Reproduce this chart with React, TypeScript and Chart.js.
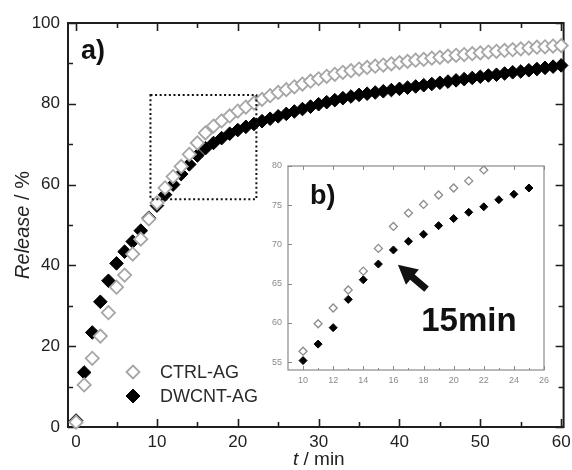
import React, { useEffect, useRef } from 'react';
import { Chart, registerables } from 'chart.js';

Chart.register(...registerables);

// ---------- data (main chart) ----------
const TIME = [
  0, 1, 2, 3, 4, 5, 6, 7, 8, 9, 10, 11, 12, 13, 14, 15, 16, 17, 18, 19, 20,
  21, 22, 23, 24, 25, 26, 27, 28, 29, 30, 31, 32, 33, 34, 35, 36, 37, 38, 39, 40,
  41, 42, 43, 44, 45, 46, 47, 48, 49, 50, 51, 52, 53, 54, 55, 56, 57, 58, 59, 60,
];
const CTRL_AG = [
  1.2, 10.4, 17.0, 22.5, 28.3, 34.6, 37.6, 42.8, 46.5, 51.5, 55.5,
  59.2, 62.0, 64.5, 67.5, 70.3, 72.8, 74.5, 75.8, 77.0, 78.2,
  79.2, 80.2, 81.1, 82.0, 82.8, 83.5, 84.2, 84.9, 85.6, 86.2,
  86.8, 87.3, 87.8, 88.2, 88.6, 89.0, 89.3, 89.6, 89.9, 90.2,
  90.5, 90.8, 91.0, 91.3, 91.5, 91.8, 92.0, 92.2, 92.4, 92.6,
  92.8, 93.0, 93.2, 93.4, 93.6, 93.8, 94.0, 94.1, 94.3, 94.4,
];
const DWCNT_AG = [
  1.6, 13.5, 23.4, 31.0, 36.2, 40.5, 43.4, 45.9, 48.6, 51.8, 54.8,
  57.5, 60.0, 62.6, 65.0, 67.2, 69.0, 70.3, 71.5, 72.6, 73.5,
  74.3, 75.0, 75.7, 76.3, 76.9, 77.5, 78.1, 78.7, 79.3, 79.9,
  80.4, 80.9, 81.4, 81.8, 82.2, 82.5, 82.8, 83.1, 83.4, 83.7,
  84.0, 84.3, 84.6, 84.9, 85.2, 85.5, 85.8, 86.1, 86.4, 86.7,
  87.0, 87.2, 87.5, 87.8, 88.0, 88.3, 88.6, 88.9, 89.2, 89.5,
];
const X_TICKS = [0, 10, 20, 30, 40, 50, 60];
const X_MINOR = [5, 15, 25, 35, 45, 55];
const Y_TICKS = [0, 20, 40, 60, 80, 100];
const Y_MINOR = [10, 30, 50, 70, 90];
const SERIES_LABELS = ['CTRL-AG', 'DWCNT-AG'];

// ---------- data (inset) ----------
const INSET_T_CTRL = [10, 11, 12, 13, 14, 15, 16, 17, 18, 19, 20, 21, 22];
const INSET_CTRL = [56.4, 59.9, 61.9, 64.2, 66.6, 69.5, 72.3, 74.0, 75.1, 76.3, 77.2, 78.1, 79.5];
const INSET_T_DWCNT = [10, 11, 12, 13, 14, 15, 16, 17, 18, 19, 20, 21, 22, 23, 24, 25];
const INSET_DWCNT = [55.2, 57.3, 59.4, 63.0, 65.5, 67.5, 69.3, 70.4, 71.3, 72.4, 73.3, 74.1, 74.8, 75.7, 76.4, 77.2];
const INSET_X_TICKS = [10, 12, 14, 16, 18, 20, 22, 24, 26];
const INSET_X_MINOR = [11, 13, 15, 17, 19, 21, 23, 25];
const INSET_Y_TICKS = [55, 60, 65, 70, 75, 80];

// annotations (data coordinates)
const ZOOM_BOX = { t0: 9.2, t1: 22.3, y0: 56.4, y1: 82.2 };
const ARROW_TAIL = { t: 18.2, y: 64.3 };
const ARROW_TIP = { t: 16.3, y: 67.4 };
const LABEL_15 = { t: 17.85, y: 59.0, text: '15min' };

const FONT = "'Liberation Sans', Arial, Helvetica, sans-serif";

function diamond(ctx: CanvasRenderingContext2D, x: number, y: number, r: number) {
  ctx.beginPath();
  ctx.moveTo(x - r, y);
  ctx.lineTo(x, y - r);
  ctx.lineTo(x + r, y);
  ctx.lineTo(x, y + r);
  ctx.closePath();
}

function drawMixed(
  ctx: CanvasRenderingContext2D,
  parts: [string, boolean][],
  cx: number,
  cy: number,
  size: number,
) {
  const widths = parts.map(([t, it]) => {
    ctx.font = `${it ? 'italic ' : ''}${size}px ${FONT}`;
    return ctx.measureText(t).width;
  });
  const total = widths.reduce((a, b) => a + b, 0);
  let x = cx - total / 2;
  ctx.textBaseline = 'middle';
  ctx.textAlign = 'left';
  parts.forEach(([t, it], i) => {
    ctx.font = `${it ? 'italic ' : ''}${size}px ${FONT}`;
    ctx.fillText(t, x, cy);
    x += widths[i];
  });
}

function drawArrow(
  ctx: CanvasRenderingContext2D,
  x0: number, y0: number, x1: number, y1: number,
  headLen: number, headHalf: number, shaftHalf: number,
) {
  const dx = x1 - x0, dy = y1 - y0;
  const L = Math.hypot(dx, dy);
  const ux = dx / L, uy = dy / L;
  const nx = -uy, ny = ux;
  const bx = x1 - ux * headLen, by = y1 - uy * headLen;
  ctx.beginPath();
  ctx.moveTo(x0 + nx * shaftHalf, y0 + ny * shaftHalf);
  ctx.lineTo(bx + nx * shaftHalf, by + ny * shaftHalf);
  ctx.lineTo(bx + nx * headHalf, by + ny * headHalf);
  ctx.lineTo(x1, y1);
  ctx.lineTo(bx - nx * headHalf, by - ny * headHalf);
  ctx.lineTo(bx - nx * shaftHalf, by - ny * shaftHalf);
  ctx.lineTo(x0 - nx * shaftHalf, y0 - ny * shaftHalf);
  ctx.closePath();
  ctx.fill();
}

const mainDeco = {
  id: 'mainDeco',
  beforeDatasetsDraw(chart: any) {
    const { ctx, chartArea: a, scales } = chart;
    const xs = scales.x, ys = scales.y;
    ctx.save();
    ctx.strokeStyle = '#1e1e1e';
    ctx.lineWidth = 2;
    ctx.strokeRect(a.left, a.top, a.right - a.left, a.bottom - a.top);
    ctx.lineWidth = 1.6;
    ctx.beginPath();
    const tickX = (vals: number[], len: number) => {
      vals.forEach((v) => {
        const p = Math.round(xs.getPixelForValue(v)) + 0.5;
        ctx.moveTo(p, a.bottom); ctx.lineTo(p, a.bottom - len);
        ctx.moveTo(p, a.top); ctx.lineTo(p, a.top + len);
      });
    };
    const tickY = (vals: number[], len: number) => {
      vals.forEach((v) => {
        const p = Math.round(ys.getPixelForValue(v)) + 0.5;
        ctx.moveTo(a.left, p); ctx.lineTo(a.left + len, p);
        ctx.moveTo(a.right, p); ctx.lineTo(a.right - len, p);
      });
    };
    tickX(X_TICKS, 8); tickX(X_MINOR, 5);
    tickY(Y_TICKS, 8); tickY(Y_MINOR, 5);
    ctx.stroke();
    ctx.restore();
  },
  afterDraw(chart: any) {
    const { ctx, chartArea: a, scales } = chart;
    const xs = scales.x, ys = scales.y;
    ctx.save();
    // dotted zoom box
    ctx.strokeStyle = '#111';
    ctx.lineWidth = 2;
    ctx.setLineDash([2, 2.6]);
    const bx0 = xs.getPixelForValue(ZOOM_BOX.t0), bx1 = xs.getPixelForValue(ZOOM_BOX.t1);
    const by0 = ys.getPixelForValue(ZOOM_BOX.y0), by1 = ys.getPixelForValue(ZOOM_BOX.y1);
    ctx.strokeRect(bx0, by1, bx1 - bx0, by0 - by1);
    ctx.setLineDash([]);
    // panel label
    ctx.fillStyle = '#111';
    ctx.font = `bold 27px ${FONT}`;
    ctx.textAlign = 'left';
    ctx.textBaseline = 'middle';
    ctx.fillText('a)', a.left + 13, a.top + 29);
    // axis titles
    ctx.fillStyle = '#222';
    drawMixed(ctx, [['t', true], [' / min', false]], (a.left + a.right) / 2 + 3, 460, 19);
    ctx.save();
    ctx.translate(23, (a.top + a.bottom) / 2);
    ctx.rotate(-Math.PI / 2);
    drawMixed(ctx, [['Release', true], [' / %', false]], 0, 0, 20);
    ctx.restore();
    // legend
    const lx = a.left + 65;
    const ly = a.bottom - 55;
    const ds = chart.data.datasets;
    ds.forEach((d: any, i: number) => {
      const y = ly + i * 24;
      diamond(ctx, lx, y, i === 0 ? 6.5 : 7);
      ctx.fillStyle = d.pointBackgroundColor;
      ctx.fill();
      ctx.lineWidth = d.pointBorderWidth;
      ctx.strokeStyle = d.pointBorderColor;
      ctx.stroke();
      ctx.fillStyle = '#2a2a2a';
      ctx.font = `18px ${FONT}`;
      ctx.textAlign = 'left';
      ctx.textBaseline = 'middle';
      ctx.fillText(d.label, lx + 27, y + 1);
    });
    ctx.restore();
  },
};

const insetDeco = {
  id: 'insetDeco',
  beforeDatasetsDraw(chart: any) {
    const { ctx, chartArea: a, scales } = chart;
    const xs = scales.x, ys = scales.y;
    ctx.save();
    ctx.strokeStyle = '#8a8a8a';
    ctx.lineWidth = 1.2;
    ctx.strokeRect(a.left, a.top, a.right - a.left, a.bottom - a.top);
    ctx.lineWidth = 1;
    ctx.beginPath();
    INSET_X_TICKS.forEach((v) => {
      const p = Math.round(xs.getPixelForValue(v)) + 0.5;
      ctx.moveTo(p, a.bottom); ctx.lineTo(p, a.bottom - 4);
      ctx.moveTo(p, a.top); ctx.lineTo(p, a.top + 4);
    });
    INSET_X_MINOR.forEach((v) => {
      const p = Math.round(xs.getPixelForValue(v)) + 0.5;
      ctx.moveTo(p, a.bottom); ctx.lineTo(p, a.bottom - 2);
    });
    INSET_Y_TICKS.forEach((v) => {
      const p = Math.round(ys.getPixelForValue(v)) + 0.5;
      ctx.moveTo(a.left, p); ctx.lineTo(a.left + 4, p);
    });
    ctx.stroke();
    ctx.restore();
  },
  afterDraw(chart: any) {
    const { ctx, chartArea: a, scales } = chart;
    const xs = scales.x, ys = scales.y;
    ctx.save();
    ctx.fillStyle = '#111';
    ctx.font = `bold 27px ${FONT}`;
    ctx.textAlign = 'left';
    ctx.textBaseline = 'middle';
    ctx.fillText('b)', a.left + 22, a.top + 31);
    drawArrow(
      ctx,
      xs.getPixelForValue(ARROW_TAIL.t), ys.getPixelForValue(ARROW_TAIL.y),
      xs.getPixelForValue(ARROW_TIP.t), ys.getPixelForValue(ARROW_TIP.y),
      19, 10, 3.5,
    );
    ctx.font = `bold 33px ${FONT}`;
    ctx.textBaseline = 'alphabetic';
    ctx.fillText(LABEL_15.text, xs.getPixelForValue(LABEL_15.t), ys.getPixelForValue(LABEL_15.y));
    ctx.restore();
  },
};

export default function App() {
  const mainRef = useRef<HTMLCanvasElement>(null);
  const insetRef = useRef<HTMLCanvasElement>(null);

  useEffect(() => {
    const main = new Chart(mainRef.current as HTMLCanvasElement, {
      type: 'scatter',
      data: {
        datasets: [
          {
            label: SERIES_LABELS[0],
            data: TIME.map((t, i) => ({ x: t, y: CTRL_AG[i] })),
            pointStyle: 'rectRot',
            pointRadius: 6.6,
            pointBorderWidth: 1.8,
            pointBorderColor: '#a6a6a6',
            pointBackgroundColor: '#ffffff',
            clip: false,
          } as any,
          {
            label: SERIES_LABELS[1],
            data: TIME.map((t, i) => ({ x: t, y: DWCNT_AG[i] })),
            pointStyle: 'rectRot',
            pointRadius: 6.8,
            pointBorderWidth: 1,
            pointBorderColor: '#000000',
            pointBackgroundColor: '#000000',
            clip: false,
          } as any,
        ],
      },
      options: {
        animation: false,
        responsive: false,
        events: [],
        layout: { padding: { top: 23, right: 7, left: 0, bottom: 0 } },
        plugins: { legend: { display: false }, tooltip: { enabled: false } },
        scales: {
          x: {
            type: 'linear',
            min: -1,
            max: 60.3,
            grid: { display: false, drawTicks: false },
            border: { display: false },
            ticks: { padding: 5, color: '#222', font: { family: FONT, size: 17 } },
            afterBuildTicks: (s: any) => { s.ticks = X_TICKS.map((v) => ({ value: v })); },
            afterFit: (s: any) => { s.height = 43; s.paddingLeft = 0; s.paddingRight = 0; },
          },
          y: {
            type: 'linear',
            min: 0,
            max: 100,
            grid: { display: false, drawTicks: false },
            border: { display: false },
            ticks: { padding: 8, color: '#222', font: { family: FONT, size: 17 } },
            afterBuildTicks: (s: any) => { s.ticks = Y_TICKS.map((v) => ({ value: v })); },
            afterFit: (s: any) => { s.width = 68; s.paddingTop = 0; s.paddingBottom = 0; },
          },
        },
      } as any,
      plugins: [mainDeco],
    });

    const inset = new Chart(insetRef.current as HTMLCanvasElement, {
      type: 'scatter',
      data: {
        datasets: [
          {
            label: SERIES_LABELS[0],
            data: INSET_T_CTRL.map((t, i) => ({ x: t, y: INSET_CTRL[i] })),
            pointStyle: 'rectRot',
            pointRadius: 4,
            pointBorderWidth: 1.3,
            pointBorderColor: '#8c8c8c',
            pointBackgroundColor: '#ffffff',
          } as any,
          {
            label: SERIES_LABELS[1],
            data: INSET_T_DWCNT.map((t, i) => ({ x: t, y: INSET_DWCNT[i] })),
            pointStyle: 'rectRot',
            pointRadius: 4,
            pointBorderWidth: 1,
            pointBorderColor: '#000000',
            pointBackgroundColor: '#000000',
          } as any,
        ],
      },
      options: {
        animation: false,
        responsive: false,
        events: [],
        layout: { padding: { top: 16, right: 8, left: 0, bottom: 0 } },
        plugins: { legend: { display: false }, tooltip: { enabled: false } },
        scales: {
          x: {
            type: 'linear',
            min: 9,
            max: 26,
            grid: { display: false, drawTicks: false },
            border: { display: false },
            ticks: { padding: 5, color: '#8a8a8a', font: { family: FONT, size: 9 } },
            afterBuildTicks: (s: any) => { s.ticks = INSET_X_TICKS.map((v) => ({ value: v })); },
            afterFit: (s: any) => { s.height = 25; s.paddingLeft = 0; s.paddingRight = 0; },
          },
          y: {
            type: 'linear',
            min: 54,
            max: 80,
            grid: { display: false, drawTicks: false },
            border: { display: false },
            ticks: { padding: 6, color: '#8a8a8a', font: { family: FONT, size: 9 } },
            afterBuildTicks: (s: any) => { s.ticks = INSET_Y_TICKS.map((v) => ({ value: v })); },
            afterFit: (s: any) => { s.width = 26; s.paddingTop = 0; s.paddingBottom = 0; },
          },
        },
      } as any,
      plugins: [insetDeco],
    });

    return () => {
      main.destroy();
      inset.destroy();
    };
  }, []);

  return (
    <div style={{ position: 'fixed', left: 0, top: 0, width: 572, height: 470, background: '#fff' }}>
      <canvas
        ref={mainRef}
        width={572}
        height={470}
        style={{ position: 'absolute', left: 0, top: 0, width: 572, height: 470 }}
      />
      <canvas
        ref={insetRef}
        width={290}
        height={245}
        style={{ position: 'absolute', left: 262, top: 150, width: 290, height: 245 }}
      />
    </div>
  );
}
